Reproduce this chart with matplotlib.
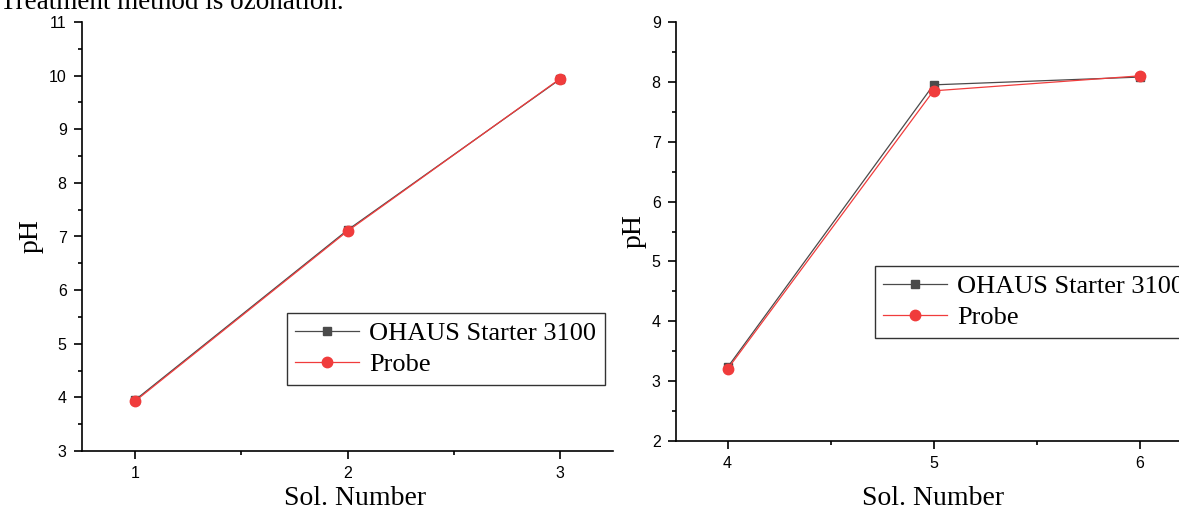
import matplotlib
matplotlib.use("Agg")
import matplotlib.pyplot as plt
import matplotlib.transforms as mtransforms
from matplotlib.ticker import MultipleLocator

sol_left = [1, 2, 3]
ohaus_left = [3.95, 7.12, 9.93]
probe_left = [3.93, 7.10, 9.94]

sol_right = [4, 5, 6]
ohaus_right = [3.23, 7.95, 8.08]
probe_right = [3.20, 7.85, 8.10]

SERIF = "Liberation Serif"
SANS = "Liberation Sans"
GRAY = "#4a4a4a"
RED = "#f03c3c"

W, H = 1179, 511
fig = plt.figure(figsize=(W / 100, H / 100), dpi=100)


def panel(rect, x, y1, y2, xlim, ylim, leg_anchor, xlab_x=0.5):
    ax = fig.add_axes(rect)
    ax.plot(x, y1, color=GRAY, lw=0.9, marker="s", ms=6, mfc=GRAY, mec=GRAY,
            label="OHAUS Starter 3100")
    ax.plot(x, y2, color=RED, lw=0.9, marker="o", ms=7.5, mfc=RED, mec=RED,
            label="Probe")
    ax.set_xlim(*xlim)
    ax.set_ylim(*ylim)
    ax.xaxis.set_major_locator(MultipleLocator(1))
    ax.xaxis.set_minor_locator(MultipleLocator(0.5))
    ax.yaxis.set_major_locator(MultipleLocator(1))
    ax.yaxis.set_minor_locator(MultipleLocator(0.5))
    for s in ("top", "right"):
        ax.spines[s].set_visible(False)
    for s in ("left", "bottom"):
        ax.spines[s].set_linewidth(1.2)
    ax.tick_params(which="major", direction="out", length=6, width=1.2,
                   labelsize=11.5, pad=5)
    ax.tick_params(which="minor", direction="out", length=3, width=1.2)
    for lab in ax.get_xticklabels() + ax.get_yticklabels():
        lab.set_fontfamily(SANS)
    ax.set_xlabel("Sol. Number", fontfamily=SERIF, fontsize=20)
    blend = mtransforms.blended_transform_factory(ax.transAxes, fig.transFigure)
    ax.xaxis.set_label_coords(xlab_x, 1 - 486 / H, transform=blend)
    ax.set_ylabel("pH", fontfamily=SERIF, fontsize=20, labelpad=4)
    leg = ax.legend(loc="upper left", bbox_to_anchor=leg_anchor,
                    bbox_transform=fig.transFigure,
                    prop={"family": SERIF, "size": 19}, frameon=True,
                    fancybox=False, edgecolor="black", handlelength=2.4,
                    borderpad=0.32, labelspacing=0.3, handletextpad=0.4,
                    borderaxespad=0)
    leg.get_frame().set_linewidth(1.0)
    return ax


panel([82 / W, 60 / H, 531 / W, 429 / H], sol_left, ohaus_left, probe_left,
      (0.75, 3.25), (3, 11), (287 / W, 1 - 313 / H), xlab_x=0.514)
panel([676 / W, 70 / H, 515 / W, 419 / H], sol_right, ohaus_right, probe_right,
      (3.75, 6.25), (2, 9), (875 / W, 1 - 266 / H), xlab_x=0.5)

fig.text(0.0, 1 - 9 / H, "Treatment method is ozonation.", fontfamily=SERIF,
         fontsize=19.5, va="baseline", ha="left")

fig.savefig("out.png", dpi=100)
